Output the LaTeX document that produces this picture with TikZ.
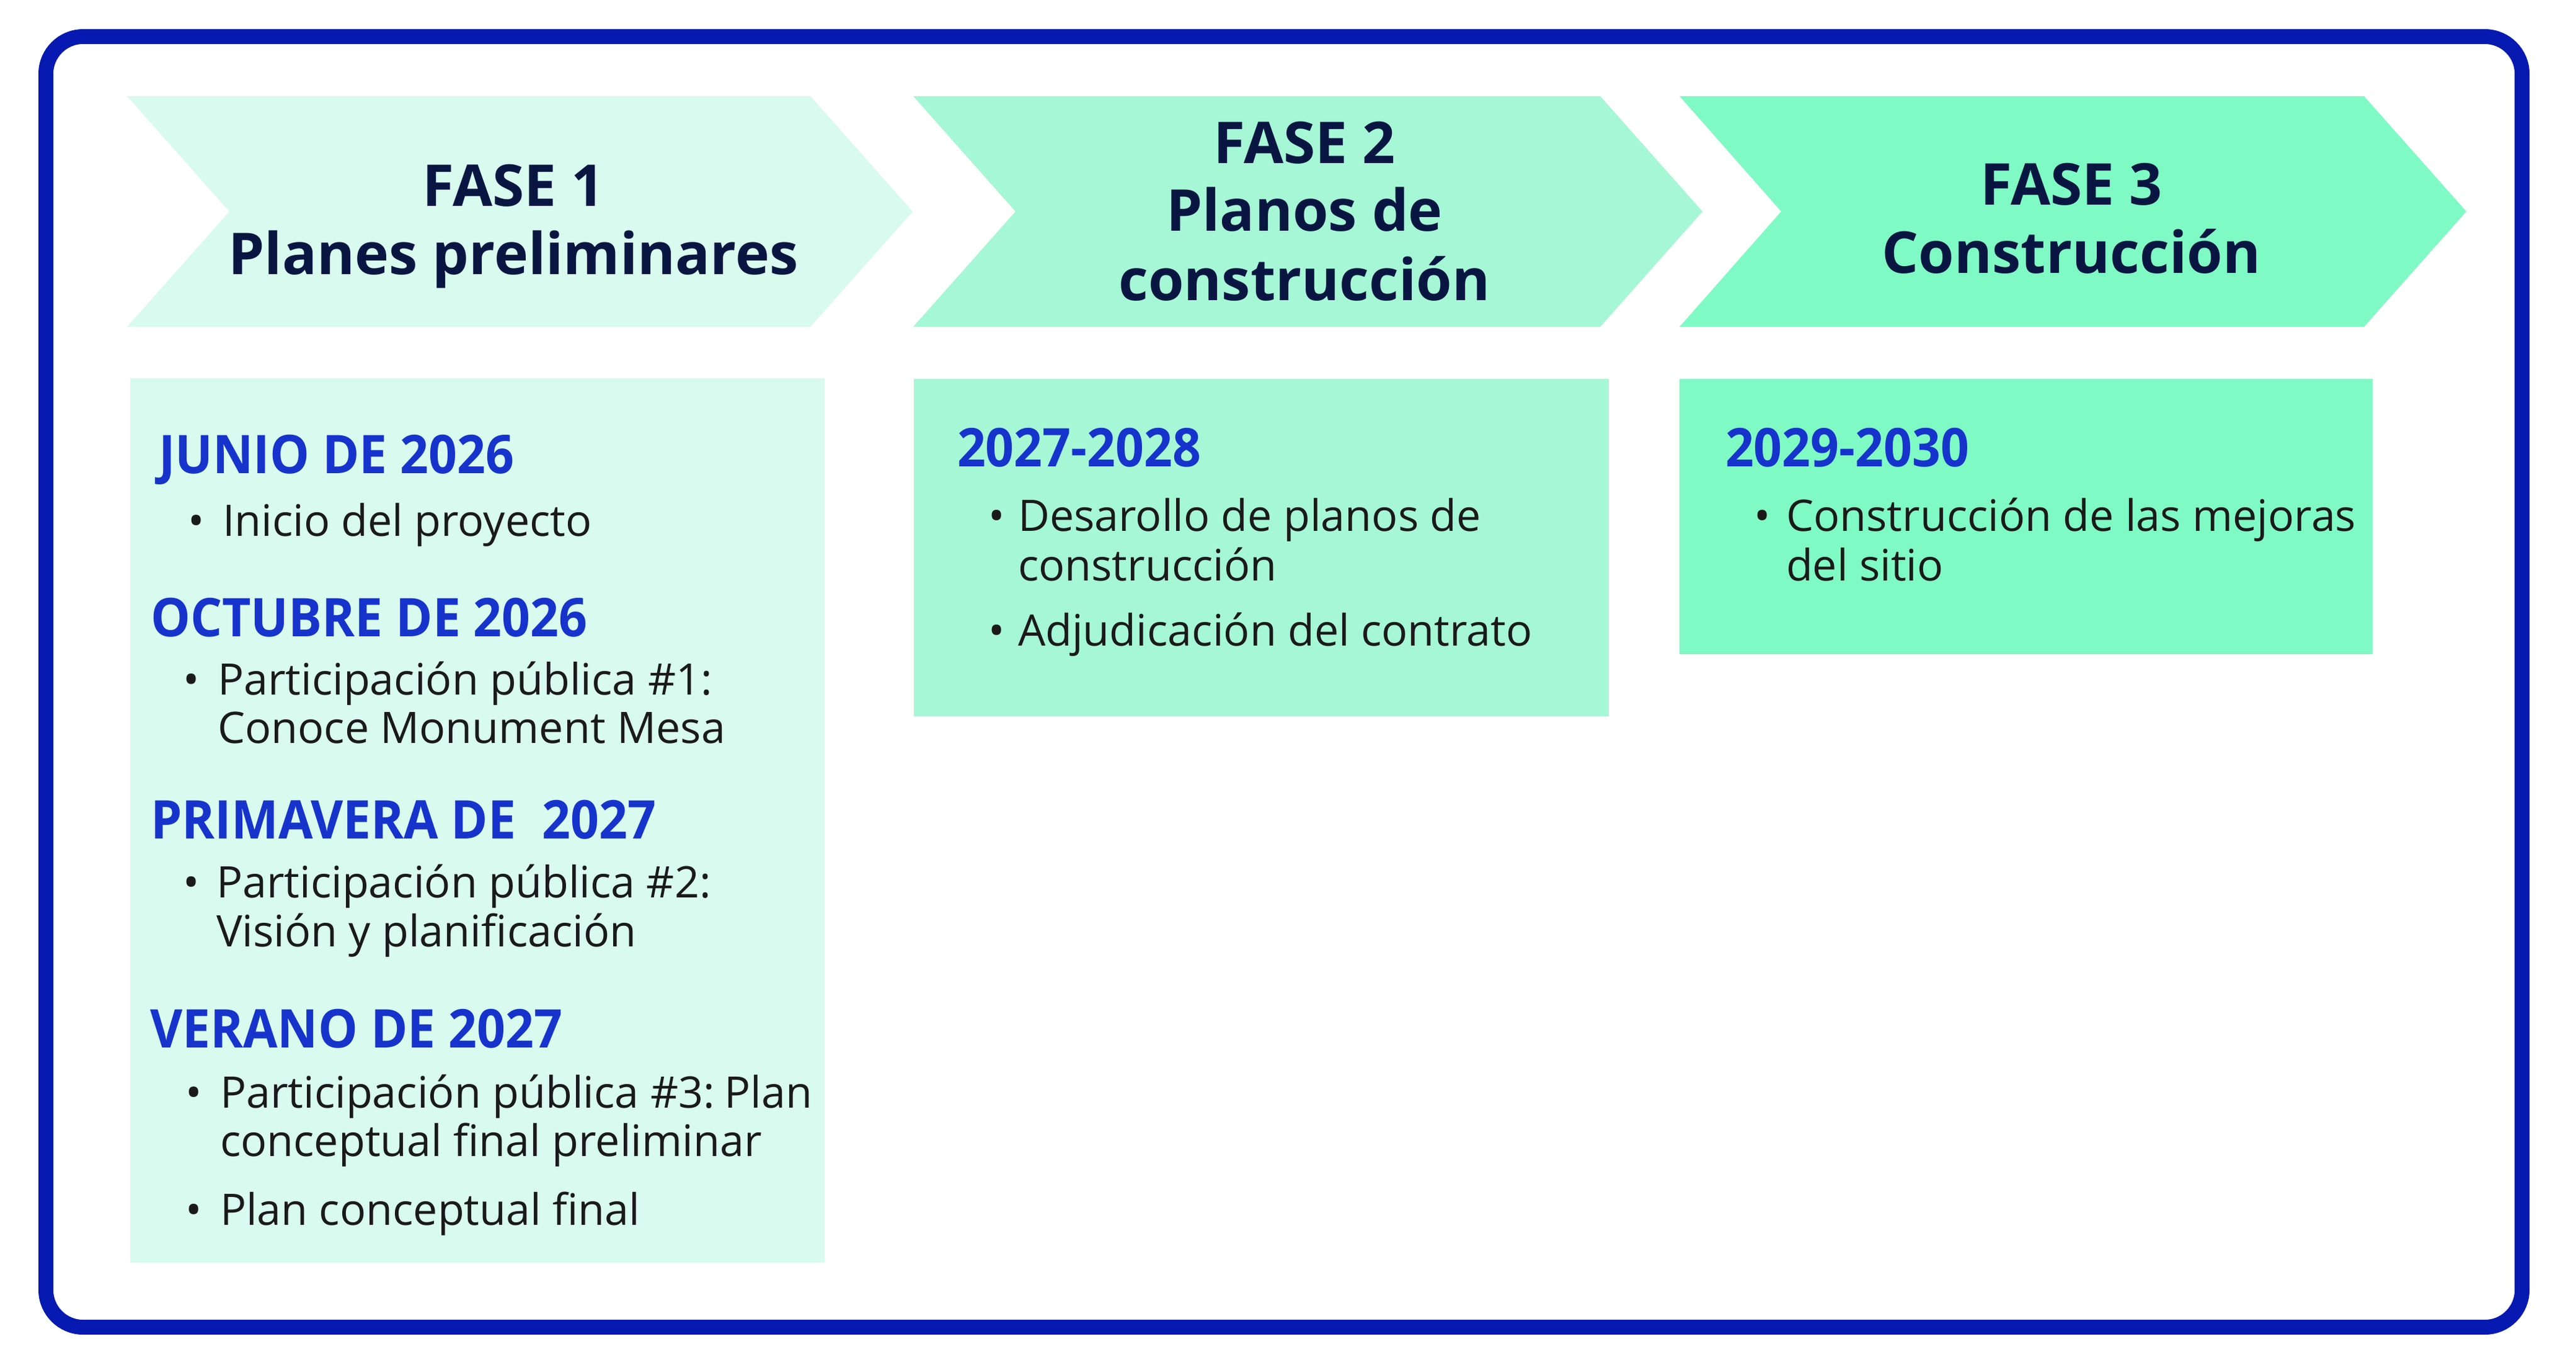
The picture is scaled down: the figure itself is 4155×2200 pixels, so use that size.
\documentclass[tikz,border=0pt]{standalone}
\usepackage{fontspec}
\setmainfont{Open Sans}
\newfontfamily\hdfont[FakeStretch=0.935]{Open Sans}
\definecolor{bordblue}{RGB}{6,26,178}
\definecolor{headblue}{RGB}{22,52,204}
\definecolor{navy}{RGB}{10,22,66}
\definecolor{bodyk}{RGB}{26,26,26}
\definecolor{cA}{RGB}{217,250,238}
\definecolor{cB}{RGB}{166,247,214}
\definecolor{cC}{RGB}{128,250,196}
\begin{document}
\begin{tikzpicture}[x=0.2pt,y=-0.2pt,
  every node/.style={inner sep=0pt,outer sep=0pt},
  ftitle/.style={anchor=base,text=navy,font=\fontsize{18.6pt}{22pt}\selectfont\bfseries},
  hd/.style={anchor=base west,text=headblue,font=\hdfont\fontsize{17.2pt}{20pt}\selectfont\bfseries},
  bul/.style={anchor=base west,text=bodyk,font=\fontsize{14pt}{15.6pt}\selectfont},
  txt/.style={anchor=base west,text=bodyk,font=\fontsize{14pt}{15.6pt}\selectfont}]
\useasboundingbox (0,0) rectangle (4155,2200);
% outer frame
\draw[bordblue,line width=4.8pt,rounded corners=12pt] (74,59) rectangle (4068,2140);
% chevrons
\fill[cA] (205,155) -- (1307,155) -- (1472,341) -- (1307,527) -- (205,527) -- (370,341) -- cycle;
\fill[cB] (1473,155) -- (2581,155) -- (2746,341) -- (2581,527) -- (1473,527) -- (1638,341) -- cycle;
\fill[cC] (2709,155) -- (3813,155) -- (3978,341) -- (3813,527) -- (2709,527) -- (2873,341) -- cycle;
% boxes
\fill[cA] (210,610) rectangle (1330,2036);
\fill[cB] (1474,611) rectangle (2595,1155);
\fill[cC] (2709,611) rectangle (3827,1055);
% titles
\node[ftitle] (t1a) at (828,332) {FASE 1};
\node[ftitle] (t1b) at (828,442) {Planes preliminares};
\node[ftitle] (t2a) at (2104,263) {FASE 2};
\node[ftitle] (t2b) at (2104,372) {Planos de};
\node[ftitle] (t2c) at (2104,484) {construcción};
\node[ftitle] (t3a) at (3341,330) {FASE 3};
\node[ftitle] (t3b) at (3341,440) {Construcción};
% box 1
\node[hd] (h11) at (256,763) {JUNIO DE 2026};
\node[bul] (b11) at (303,864) {•};
\node[txt] (x11) at (359,864) {Inicio del proyecto};
\node[hd] (h12) at (243,1026) {OCTUBRE DE 2026};
\node[bul] (b12) at (295,1120) {•};
\node[txt] (x12a) at (351,1120) {Participación pública \#1:};
\node[txt] (x12b) at (351,1198) {Conoce Monument Mesa};
\node[hd] (h13) at (243,1352) {PRIMAVERA DE\ \ 2027};
\node[bul] (b13) at (295,1447) {•};
\node[txt] (x13a) at (349,1447) {Participación pública \#2:};
\node[txt] (x13b) at (349,1526) {Visión y planificación};
\node[hd] (h14) at (242,1689) {VERANO DE 2027};
\node[bul] (b14) at (299,1786) {•};
\node[txt] (x14a) at (355,1786) {Participación pública \#3:\hspace{-0.12em} Plan};
\node[txt] (x14b) at (355,1864) {conceptual final preliminar};
\node[bul] (b15) at (299,1975) {•};
\node[txt] (x15) at (355,1975) {Plan conceptual final};
% box 2
\node[hd] (h21) at (1544,752) {2027-2028};
\node[bul] (b21) at (1594,856) {•};
\node[txt] (x21a) at (1642,856) {Desarollo de planos de};
\node[txt] (x21b) at (1642,936) {construcción};
\node[bul] (b22) at (1594,1041) {•};
\node[txt] (x22) at (1642,1041) {Adjudicación del contrato};
% box 3
\node[hd] (h31) at (2783,752) {2029-2030};
\node[bul] (b31) at (2829,856) {•};
\node[txt] (x31a) at (2881,856) {Construcción de las mejoras};
\node[txt] (x31b) at (2881,936) {del sitio};
\end{tikzpicture}
\end{document}
